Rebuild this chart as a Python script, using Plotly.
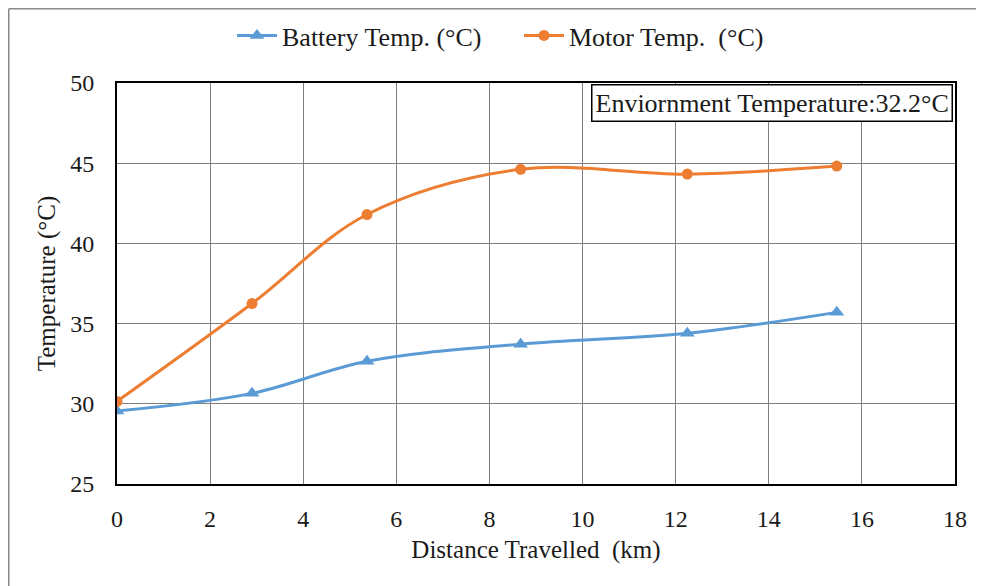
import plotly.graph_objects as go

distance_km = [0, 2.9, 5.37, 8.67, 12.25, 15.46]
battery_temp = [29.55, 30.65, 32.65, 33.72, 34.4, 35.7]
motor_temp = [30.15, 36.25, 41.8, 44.62, 44.32, 44.82]

x_ticks = [0, 2, 4, 6, 8, 10, 12, 14, 16, 18]
y_ticks = [25, 30, 35, 40, 45, 50]

FONT = "Liberation Serif, Times New Roman, serif"
TXT = "#1a1a1a"

fig = go.Figure()
fig.add_trace(go.Scatter(
    x=distance_km, y=battery_temp, mode="lines+markers",
    name="Battery Temp. (°C)",
    line=dict(color="#5B9BD5", width=3, shape="spline", smoothing=1),
    marker=dict(symbol="triangle-up", size=13, color="#5B9BD5"),
))
fig.add_trace(go.Scatter(
    x=distance_km, y=motor_temp, mode="lines+markers",
    name="Motor Temp.  (°C)",
    line=dict(color="#ED7D31", width=3, shape="spline", smoothing=1),
    marker=dict(symbol="circle", size=11, color="#ED7D31"),
))

# page body has an 8px margin; compensate so plot area lands at screen 117..955 x 83..484
OFF = 8
W, H = 984 - OFF, 586 - OFF
L, T = 117 - OFF, 83 - OFF
R = W + OFF - 955
B = H + OFF - 484
pw, ph = W - L - R, H - T - B

def px(xs):
    return (xs - OFF - L) / pw

def py(ys):
    return (H + OFF - B - ys) / ph

fig.update_layout(
    width=W, height=H,
    margin=dict(l=L, r=R, t=T, b=B, autoexpand=False),
    paper_bgcolor="white", plot_bgcolor="white",
    font=dict(family=FONT, size=24, color=TXT),
    showlegend=True,
    legend=dict(orientation="h", x=px(232), y=py(12), xanchor="left", yanchor="top",
                font=dict(family=FONT, size=26, color=TXT),
                itemwidth=40, tracegroupgap=0, bgcolor="rgba(0,0,0,0)",
                entrywidth=232, entrywidthmode="pixels"),
    xaxis=dict(range=[0, 18], tickvals=x_ticks, ticktext=[str(v) for v in x_ticks],
               showgrid=True, gridcolor="#7f7f7f", gridwidth=1,
               showline=True, linecolor="black", linewidth=2, mirror=True,
               zeroline=False, ticks="", ticklabelstandoff=12,
               tickfont=dict(family=FONT, size=24, color=TXT),
               title=dict(text="Distance Travelled  (km)", standoff=10,
                          font=dict(family=FONT, size=25, color=TXT))),
    yaxis=dict(range=[25, 50], tickvals=y_ticks, ticktext=[str(v) for v in y_ticks],
               showgrid=True, gridcolor="#7f7f7f", gridwidth=1,
               showline=True, linecolor="black", linewidth=2, mirror=True,
               zeroline=False, ticks="", ticklabelstandoff=16,
               tickfont=dict(family=FONT, size=24, color=TXT),
               title=dict(text="Temperature (°C)", standoff=7,
                          font=dict(family=FONT, size=25, color=TXT))),
    annotations=[dict(
        text="Enviornment Temperature:32.2°C", xref="paper", yref="paper",
        x=px(953), y=py(84), xanchor="right", yanchor="top", showarrow=False,
        font=dict(family=FONT, size=26, color=TXT),
        bordercolor="black", borderwidth=1.5, borderpad=3, bgcolor="white",
    )],
    shapes=[
        dict(type="line", xref="paper", yref="paper", x0=px(OFF + 0.75), x1=px(OFF + 0.75),
             y0=py(OFF + 0.75), y1=py(600), line=dict(color="#888888", width=1.5)),
        dict(type="line", xref="paper", yref="paper", x0=px(OFF + 0.75), x1=px(1000),
             y0=py(OFF + 0.75), y1=py(OFF + 0.75), line=dict(color="#888888", width=1.5)),
    ],
)

fig.write_html("out.html")
